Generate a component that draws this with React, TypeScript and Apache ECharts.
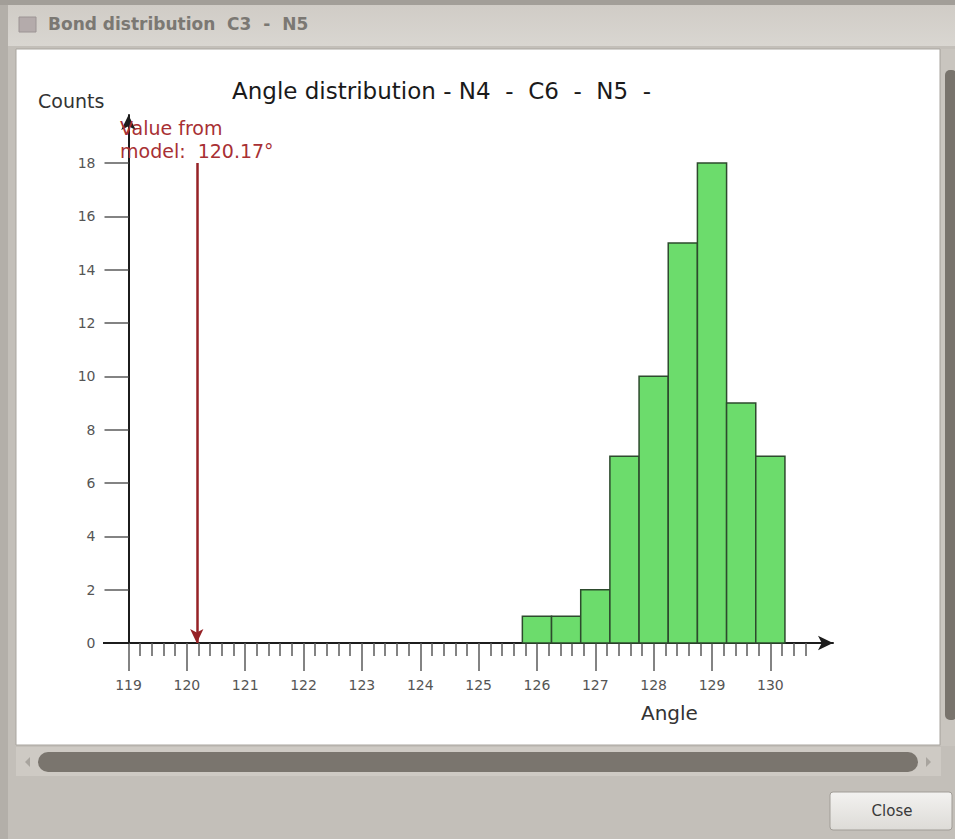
import React, { useEffect, useRef } from "react";
import * as echarts from "echarts";

// ---- data ----
const binStarts = [125.75, 126.25, 126.75, 127.25, 127.75, 128.25, 128.75, 129.25, 129.75];
const binWidth = 0.5;
const counts = [1, 1, 2, 7, 10, 15, 18, 9, 7];
const modelValue = 120.17;
const modelArrowTop = 18;
const xTickLabels = [119, 120, 121, 122, 123, 124, 125, 126, 127, 128, 129, 130];
const yTickLabels = [0, 2, 4, 6, 8, 10, 12, 14, 16, 18];
const chartTitle = "Angle distribution - N4  -  C6  -  N5  -";
const windowTitle = "Bond distribution  C3  -  N5";
const yName = "Counts";
const xName = "Angle";
const buttonText = "Close";

// minor ticks every 0.2 between 119 and 130.6 (non-integer positions)
const minorTicks: number[] = [];
for (let i = 1; i <= 58; i++) {
  if (i % 5 !== 0) minorTicks.push(Math.round((119 + i * 0.2) * 100) / 100);
}

const FONT = "DejaVu Sans";

export default function App() {
  const ref = useRef<HTMLDivElement>(null);
  useEffect(() => {
    if (!ref.current) return;
    const chart = echarts.init(ref.current, undefined, { renderer: "svg" });

    const gridLeft = 128.5;
    const gridTop = 115;
    const gridW = 704.5;
    const gridH = 528;
    const xMin = 119;
    const xMax = 119 + gridW / 58.35;
    const yMax = gridH / 26.67;

    const histData = binStarts.map((s, i) => [s, s + binWidth, counts[i]]);

    const option: any = {
      animation: false,
      backgroundColor: "transparent",
      textStyle: { fontFamily: FONT },
      grid: { left: gridLeft, top: gridTop, width: gridW, height: gridH, containLabel: false },
      xAxis: [
        {
          type: "value",
          min: xMin,
          max: xMax,
          position: "bottom",
          splitLine: { show: false },
          axisLine: {
            show: true,
            onZero: false,
            symbol: ["none", "arrow"],
            symbolSize: [11, 15],
            lineStyle: { color: "#1c1c1c", width: 2 },
          },
          axisTick: {
            show: true,
            customValues: xTickLabels,
            length: 28,
            lineStyle: { color: "#5a5a5a", width: 1.5 },
          },
          axisLabel: {
            show: true,
            customValues: xTickLabels,
            margin: 35,
            color: "#555555",
            fontSize: 14,
            fontFamily: FONT,
          },
        },
        {
          type: "value",
          min: xMin,
          max: xMax,
          position: "bottom",
          gridIndex: 0,
          splitLine: { show: false },
          axisLine: { show: false, onZero: false },
          axisTick: {
            show: true,
            customValues: minorTicks,
            length: 13,
            lineStyle: { color: "#5a5a5a", width: 1.5 },
          },
          axisLabel: { show: false },
        },
      ],
      yAxis: {
        type: "value",
        min: 0,
        max: yMax,
        splitLine: { show: false },
        axisLine: {
          show: true,
          onZero: false,
          symbol: ["none", "arrow"],
          symbolSize: [11, 15],
          lineStyle: { color: "#1c1c1c", width: 2 },
        },
        axisTick: {
          show: true,
          customValues: yTickLabels,
          length: 24,
          lineStyle: { color: "#5a5a5a", width: 1.5 },
        },
        axisLabel: {
          show: true,
          customValues: yTickLabels,
          margin: 33,
          color: "#555555",
          fontSize: 14,
          fontFamily: FONT,
        },
      },
      series: [
        {
          type: "custom",
          xAxisIndex: 0,
          yAxisIndex: 0,
          encode: { x: [0, 1], y: 2 },
          data: histData,
          renderItem: (params: any, api: any) => {
            const lo = api.value(0);
            const hi = api.value(1);
            const c = api.value(2);
            const p0 = api.coord([lo, c]);
            const p1 = api.coord([hi, 0]);
            return {
              type: "rect",
              shape: { x: p0[0], y: p0[1], width: p1[0] - p0[0], height: p1[1] - p0[1] },
              style: { fill: "#6cdc6c", stroke: "#2d4a2d", lineWidth: 1.5 },
            };
          },
          markLine: {
            silent: true,
            symbol: ["none", "arrow"],
            symbolSize: [10, 14],
            label: { show: false },
            lineStyle: { color: "#962226", width: 2.5, type: "solid" },
            data: [[{ coord: [modelValue, modelArrowTop] }, { coord: [modelValue, 0] }]],
          },
          z: 3,
        },
      ],
      graphic: [
        // window chrome
        { type: "rect", z: -20, silent: true, shape: { x: 0, y: 0, width: 955, height: 839 }, style: { fill: "#c3bfb9" } },
        { type: "rect", z: -19, silent: true, shape: { x: 0, y: 0, width: 955, height: 5 }, style: { fill: "#a29e98" } },
        { type: "rect", z: -19, silent: true, shape: { x: 0, y: 5, width: 955, height: 41 },
          style: { fill: new echarts.graphic.LinearGradient(0, 0, 0, 1, [{ offset: 0, color: "#d0ccc6" }, { offset: 1, color: "#d9d6d1" }]) } },
        { type: "rect", z: -19, silent: true, shape: { x: 0, y: 5, width: 8, height: 834 }, style: { fill: "#b3afa9" } },
        { type: "rect", z: -18, silent: true, shape: { x: 19, y: 17, width: 17, height: 15 }, style: { fill: "#b4abab", stroke: "#9c9494", lineWidth: 1 } },
        { type: "text", z: -18, silent: true, x: 48, y: 24,
          style: { text: windowTitle, font: `bold 17px "${FONT}"`, fill: "#7b7873", textVerticalAlign: "middle" } },
        // white canvas
        { type: "rect", z: -17, silent: true, shape: { x: 16, y: 49, width: 924, height: 696 }, style: { fill: "#ffffff", stroke: "#a9a59f", lineWidth: 1 } },
        // vertical scrollbar
        { type: "rect", z: -17, silent: true, shape: { x: 941, y: 49, width: 14, height: 697 }, style: { fill: "#c9c5bf" } },
        { type: "rect", z: -16, silent: true, shape: { x: 945, y: 70, width: 12, height: 650, r: 5 }, style: { fill: "#78736c" } },
        // horizontal scrollbar
        { type: "rect", z: -17, silent: true, shape: { x: 16, y: 747, width: 925, height: 29 }, style: { fill: "#cecac4" } },
        { type: "rect", z: -16, silent: true, shape: { x: 38, y: 752, width: 880, height: 20, r: 10 }, style: { fill: "#7a756e" } },
        { type: "polygon", z: -16, silent: true, shape: { points: [[30, 757], [30, 767], [25, 762]] }, style: { fill: "#a8a49e" } },
        { type: "polygon", z: -16, silent: true, shape: { points: [[926, 757], [926, 767], [931, 762]] }, style: { fill: "#a8a49e" } },
        // Close button
        { type: "rect", z: -16, silent: true, shape: { x: 830, y: 792, width: 122, height: 38, r: 3 },
          style: { fill: new echarts.graphic.LinearGradient(0, 0, 0, 1, [{ offset: 0, color: "#f3f2f0" }, { offset: 1, color: "#dddbd7" }]), stroke: "#a19d97", lineWidth: 1 } },
        { type: "text", z: -15, silent: true, x: 892, y: 811,
          style: { text: buttonText, font: `15px "${FONT}"`, fill: "#3a3a3a", textAlign: "center", textVerticalAlign: "middle" } },
        // chart texts
        { type: "text", z: 10, silent: true, x: 232, y: 91,
          style: { text: chartTitle, font: `23px "${FONT}"`, fill: "#1a1a1a", textVerticalAlign: "middle" } },
        { type: "text", z: 10, silent: true, x: 38, y: 101,
          style: { text: yName, font: `19px "${FONT}"`, fill: "#333333", textVerticalAlign: "middle" } },
        { type: "text", z: 10, silent: true, x: 641, y: 713,
          style: { text: xName, font: `20px "${FONT}"`, fill: "#333333", textVerticalAlign: "middle" } },
        { type: "text", z: 10, silent: true, x: 120, y: 116,
          style: { text: "Value from\nmodel:  " + modelValue.toFixed(2) + "°", font: `19px "${FONT}"`, fill: "#a83034", lineHeight: 23 } },
        // left extension of the x axis line
        { type: "line", z: 5, silent: true, shape: { x1: 103, y1: 643, x2: 129, y2: 643 }, style: { stroke: "#1c1c1c", lineWidth: 2 } },
      ],
    };
    chart.setOption(option);
    return () => chart.dispose();
  }, []);
  return (
    <div
      ref={ref}
      style={{ position: "absolute", left: 0, top: 0, width: 955, height: 839 }}
    />
  );
}
